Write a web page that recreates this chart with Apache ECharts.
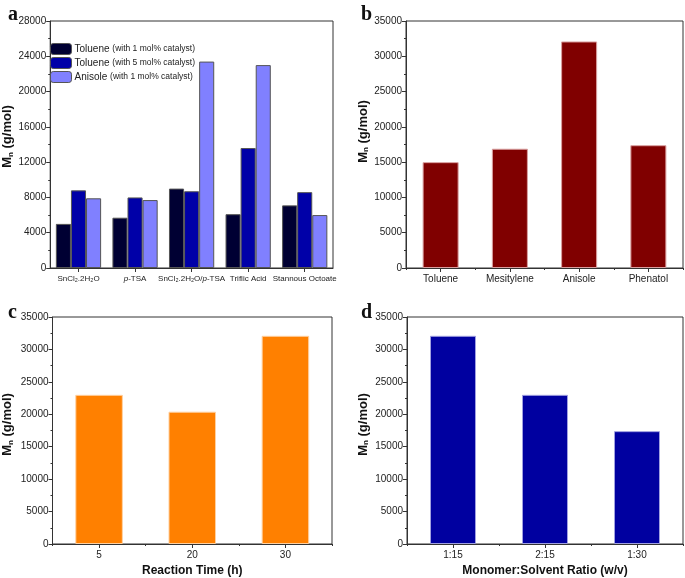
<!DOCTYPE html>
<html><head><meta charset="utf-8">
<script src="https://cdn.jsdelivr.net/npm/echarts@6/dist/echarts.min.js"></script>
<style>html,body{margin:0;padding:0;background:#fff}#c{width:685px;height:578px}</style>
</head><body><div id="c"></div>
<script>
// ---- data ----
const catalysts = ['SnCl₂.2H₂O', 'p-TSA', 'SnCl₂.2H₂O/p-TSA', 'Triflic Acid', 'Stannous Octoate'];
const seriesNamesA = ['Toluene (with 1 mol% catalyst)', 'Toluene (with 5 mol% catalyst)', 'Anisole (with 1 mol% catalyst)'];
const toluene1 = [5000, 5700, 9000, 6100, 7100];
const toluene5 = [8800, 8000, 8700, 13600, 8600];
const anisole1 = [7900, 7700, 23400, 23000, 6000];
const solvents = ['Toluene', 'Mesitylene', 'Anisole', 'Phenatol'];
const solventMn = [15000, 16900, 32100, 17400];
const times = ['5', '20', '30'];
const timeMn = [23000, 20400, 32100];
const ratios = ['1:15', '2:15', '1:30'];
const ratioMn = [32100, 23000, 17400];
const panelLetters = ['a', 'b', 'c', 'd'];

const FONT = 'Liberation Sans, Arial, sans-serif';
const AX = '#333';
const chart = echarts.init(document.getElementById('c'));

const grids = [
  {left: 48, top: 21, width: 285, height: 247},
  {left: 406, top: 21, width: 277, height: 247},
  {left: 49, top: 317, width: 283, height: 230},
  {left: 407, top: 317, width: 276, height: 230}
].map(g => Object.assign({show: true, borderColor: AX, borderWidth: 1, backgroundColor: 'transparent'}, g));

const yName = '{m|M}{s|n}{m| (g/mol)}';
const yRich = {m: {fontFamily: FONT, fontWeight: 'bold', fontSize: 13, color: '#111'},
               s: {fontFamily: FONT, fontWeight: 'bold', fontSize: 8, color: '#111', padding: [6, 0, 0, 0]}};
function yAxis(gi, max, interval, gap, shift) {
  return {type: 'value', gridIndex: gi, min: 0, max: max, interval: interval,
    name: yName, nameLocation: 'middle', nameGap: gap, nameRotate: 90,
    nameTextStyle: {rich: yRich, padding: [0, 0, 0, 2 * shift]},
    axisLine: {show: true, lineStyle: {color: AX}},
    axisTick: {show: true, length: 4, lineStyle: {color: AX}},
    minorTick: {show: true, splitNumber: 2, length: 2, lineStyle: {color: AX}},
    splitLine: {show: false},
    axisLabel: {fontFamily: FONT, fontSize: 10, color: '#222', margin: 4, formatter: v => String(v)}};
}
function xMain(gi, data, extra) {
  return Object.assign({type: 'category', gridIndex: gi, data: data,
    axisLine: {show: true, lineStyle: {color: AX}},
    axisTick: {show: true, alignWithLabel: true, length: 4, lineStyle: {color: AX}},
    axisLabel: {fontFamily: FONT, fontSize: 10, color: '#222', margin: 6, interval: 0}}, extra || {});
}
function xBound(gi, data) {
  return {type: 'category', gridIndex: gi, data: data, position: 'bottom',
    axisLine: {show: false}, axisLabel: {show: false},
    axisTick: {show: true, length: 2, interval: 0, lineStyle: {color: AX}}};
}

const catRich = {
  t: {fontFamily: FONT, fontSize: 8, color: '#222'},
  i: {fontFamily: FONT, fontSize: 8, color: '#222', fontStyle: 'italic'}
};
function catFmt(v) {
  const parts = v.split('p-');
  if (parts.length === 1) return '{t|' + v + '}';
  return (parts[0] ? '{t|' + parts[0] + '}' : '') + '{i|p}{t|-' + parts[1] + '}';
}

const xNameStyle = {fontFamily: FONT, fontWeight: 'bold', fontSize: 12, color: '#111'};

const option = {
  animation: false,
  backgroundColor: '#fff',
  title: [
    {text: panelLetters[0], left: 3, top: 0},
    {text: panelLetters[1], left: 356, top: 0},
    {text: panelLetters[2], left: 3, top: 298},
    {text: panelLetters[3], left: 356, top: 298}
  ].map(t => Object.assign(t, {textStyle: {fontFamily: 'Liberation Serif, Times New Roman, serif', fontWeight: 'bold', fontSize: 20, color: '#111'}})),
  legend: {
    left: 50, top: 43, padding: 0, orient: 'vertical', itemWidth: 21, itemHeight: 11, itemGap: 2,
    data: seriesNamesA,
    textStyle: {fontFamily: FONT, fontSize: 10, color: '#222', padding: [0, 0, 0, -2],
      rich: {a: {fontFamily: FONT, fontSize: 10, color: '#222'}, b: {fontFamily: FONT, fontSize: 8.5, color: '#222'}}},
    formatter: function (n) { const k = n.indexOf('('); return '{a|' + n.slice(0, k) + '}{b|' + n.slice(k) + '}'; },
    itemStyle: {borderColor: '#555', borderWidth: 1}
  },
  grid: grids,
  xAxis: [
    xMain(0, catalysts, {axisLabel: {interval: 0, margin: 7, formatter: catFmt, rich: catRich}}),
    xMain(1, solvents),
    xMain(2, times, {name: 'Reaction Time (h)', nameLocation: 'middle', nameGap: 21, nameTextStyle: xNameStyle}),
    xMain(3, ratios, {name: 'Monomer:Solvent Ratio (w/v)', nameLocation: 'middle', nameGap: 21, nameTextStyle: xNameStyle}),
    xBound(1, solvents),
    xBound(2, times),
    xBound(3, ratios)
  ],
  yAxis: [
    yAxis(0, 28000, 4000, 31, 8),
    yAxis(1, 35000, 5000, 36, 13),
    yAxis(2, 35000, 5000, 38, 6),
    yAxis(3, 35000, 5000, 37, 6)
  ],
  series: [
    {type: 'bar', name: seriesNamesA[0], xAxisIndex: 0, yAxisIndex: 0, data: toluene1, barGap: '0%', barCategoryGap: '20%',
      itemStyle: {color: '#000033', borderColor: '#555', borderWidth: 1}},
    {type: 'bar', name: seriesNamesA[1], xAxisIndex: 0, yAxisIndex: 0, data: toluene5, barGap: '0%', barCategoryGap: '20%',
      itemStyle: {color: '#0000A8', borderColor: '#555', borderWidth: 1}},
    {type: 'bar', name: seriesNamesA[2], xAxisIndex: 0, yAxisIndex: 0, data: anisole1, barGap: '0%', barCategoryGap: '20%',
      itemStyle: {color: '#8080FF', borderColor: '#555', borderWidth: 1}},
    {type: 'bar', xAxisIndex: 1, yAxisIndex: 1, data: solventMn, barWidth: '52%',
      itemStyle: {color: '#800000', borderColor: '#d9a0a0', borderWidth: 1}},
    {type: 'bar', xAxisIndex: 2, yAxisIndex: 2, data: timeMn, barWidth: '51%',
      itemStyle: {color: '#FF8000', borderColor: '#ffd0a0', borderWidth: 1}},
    {type: 'bar', xAxisIndex: 3, yAxisIndex: 3, data: ratioMn, barWidth: '50%',
      itemStyle: {color: '#0000A0', borderColor: '#a0a0e0', borderWidth: 1}}
  ]
};
chart.setOption(option);
</script></body></html>
